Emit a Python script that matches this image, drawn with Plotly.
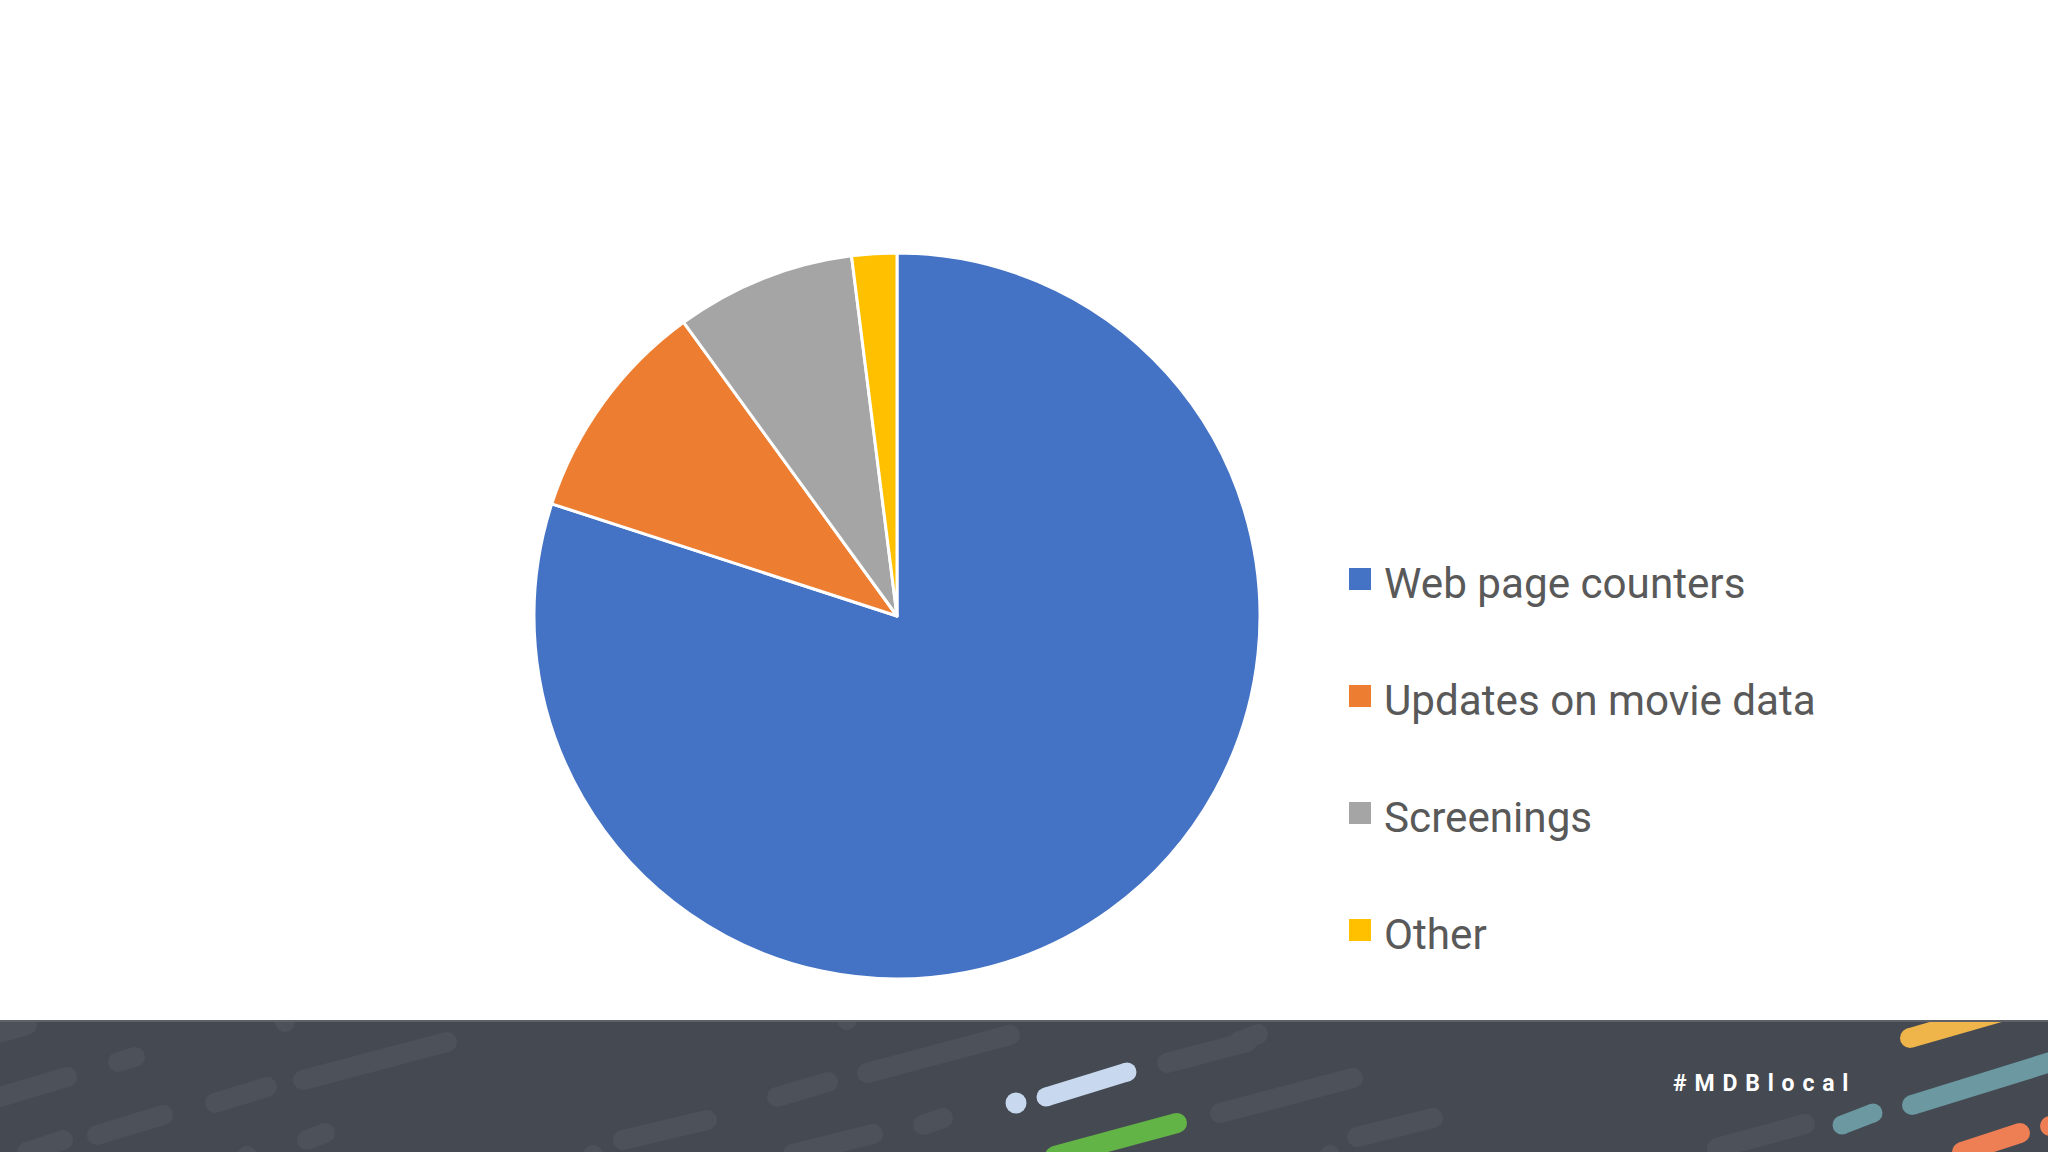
import plotly.graph_objects as go

# ---- data ----
labels = ["Web page counters", "Updates on movie data", "Screenings", "Other"]
values = [80, 10, 8, 2]
colors = ["#4472C4", "#ED7D31", "#A5A5A5", "#FFC000"]
tag_text = "#MDBlocal"

W, H = 2048, 1152


def px(x):
    return x / W


def py(y):
    return 1 - y / H


fig = go.Figure()

# pie
cx, cy, r = 897, 616, 363
fig.add_trace(go.Pie(
    labels=labels, values=values, sort=False, direction="clockwise", rotation=0,
    marker=dict(colors=colors, line=dict(color="white", width=3)),
    textinfo="none", hoverinfo="label+percent", showlegend=False,
    domain=dict(x=[px(cx - r), px(cx + r)], y=[py(cy + r), py(cy - r)]),
))

shapes = []
annotations = []

# legend (drawn manually for the wide row spacing)
leg_x, leg_y0, leg_dy, sq = 1349, 579, 117, 22
for i, (lab, col) in enumerate(zip(labels, colors)):
    yc = leg_y0 + i * leg_dy
    shapes.append(dict(type="rect", xref="paper", yref="paper",
                       x0=px(leg_x), x1=px(leg_x + sq), y0=py(yc + sq / 2), y1=py(yc - sq / 2),
                       fillcolor=col, line=dict(width=0)))
    annotations.append(dict(xref="paper", yref="paper", x=px(1382), y=py(yc + 4),
                            xanchor="left", yanchor="middle", showarrow=False, text=lab,
                            font=dict(family="Roboto", size=42.2, color="#595959")))

# footer band
band_top = 1021
shapes.append(dict(type="rect", xref="paper", yref="paper", x0=0, x1=1, y0=0, y1=py(band_top),
                   fillcolor="#454A52", line=dict(width=0), layer="above"))


def dot(x, y, rr, col):
    shapes.append(dict(type="circle", xref="paper", yref="paper", x0=px(x - rr), x1=px(x + rr),
                       y0=py(y + rr), y1=py(y - rr), fillcolor=col, line=dict(width=0)))


def pill(x0, y0, x1, y1, w, col):
    shapes.append(dict(type="line", xref="paper", yref="paper", x0=px(x0), y0=py(y0), x1=px(x1), y1=py(y1),
                       line=dict(color=col, width=w)))
    for (x, y) in ((x0, y0), (x1, y1)):
        dot(x, y, w / 2, col)


faint = "#4D525A"
for seg in [(-10, 1035, 27, 1025), (118, 1062, 135, 1057), (-10, 1100, 67, 1077), (303, 1080, 447, 1042),
            (215, 1103, 267, 1087), (97, 1135, 163, 1115), (27, 1152, 63, 1140), (307, 1140, 325, 1133),
            (867, 1073, 1010, 1035), (777, 1097, 828, 1082), (623, 1140, 707, 1120), (923, 1125, 943, 1118),
            (793, 1154, 873, 1134), (1167, 1063, 1247, 1042), (1220, 1113, 1353, 1078),
            (1357, 1137, 1433, 1118), (1717, 1148, 1805, 1124), (1238, 1042, 1258, 1034)]:
    pill(*seg, 20, faint)
for (x, y) in [(285, 1022), (847, 1020), (247, 1156), (593, 1155), (1330, 1155)]:
    dot(x, y, 10, faint)

# coloured strokes
dot(1016, 1103, 10.5, "#C8D9EF")
pill(1046, 1097, 1127, 1072, 19, "#C8D9EF")
pill(1055, 1156, 1177, 1123, 20, "#63B446")
pill(1910, 1038, 2070, 992, 20, "#EFB54A")
pill(1912, 1105, 2070, 1056, 20, "#6B98A1")
pill(1842, 1125, 1873, 1113, 19, "#6B98A1")
pill(1962, 1152, 2020, 1133, 20, "#EE7F55")
dot(2050, 1126, 10, "#EE7F55")

# white cover above band (clips strokes at band edge)
shapes.append(dict(type="rect", xref="paper", yref="paper", x0=0, x1=1, y0=py(band_top), y1=py(985),
                   fillcolor="white", line=dict(width=0)))
shapes.append(dict(type="line", xref="paper", yref="paper", x0=0, x1=1, y0=py(band_top), y1=py(band_top),
                   line=dict(color="#5E6166", width=2)))

annotations.append(dict(xref="paper", yref="paper", x=px(1671), y=py(1083), xanchor="left", yanchor="middle",
                        showarrow=False, text="\u2004".join(tag_text),
                        font=dict(family="Roboto", size=23, color="white", weight="bold")))

fig.update_layout(
    width=W, height=H, margin=dict(l=0, r=0, t=0, b=0),
    paper_bgcolor="white", plot_bgcolor="white",
    shapes=shapes, annotations=annotations, showlegend=False,
)

fig.write_html("out.html", config={"displayModeBar": False},
               post_script="document.body.style.margin='0';")
